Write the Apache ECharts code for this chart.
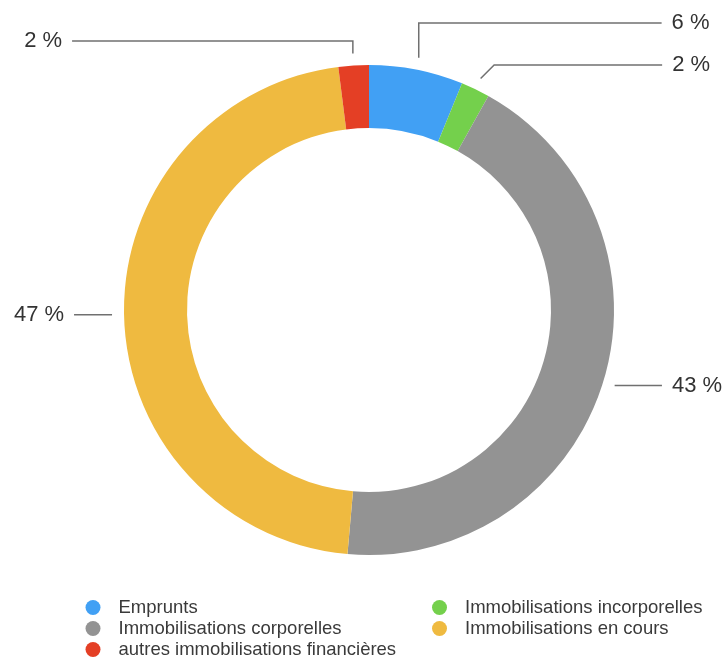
<!DOCTYPE html>
<html>
<head>
<meta charset="utf-8">
<script src="https://cdn.jsdelivr.net/npm/echarts@6/dist/echarts.min.js"></script>
<style>
html,body{margin:0;padding:0;background:#fff;}
#chart{width:728px;height:664px;}
</style>
</head>
<body>
<div id="chart"></div>
<script>
// ---- data ----
const categories = [
  'Emprunts',
  'Immobilisations incorporelles',
  'Immobilisations corporelles',
  'Immobilisations en cours',
  'autres immobilisations financières'
];
const values = [6.2, 1.9, 43.3, 46.6, 2.0];

const legendLeftColumn = ['Emprunts', 'Immobilisations corporelles', 'autres immobilisations financières'];
const legendRightColumn = ['Immobilisations incorporelles', 'Immobilisations en cours'];

// ---- styles ----
const colors = ['#41a0f4', '#74d04c', '#939393', '#efba40', '#e43f25'];
const lineLength = [47.5, 27, 12, 2, 24.5];
const lineLength2 = [236, 175, 47.3, 48, 280];
const lineGap = [12, 12, 12, 12, 12];
const firstSegment = ['vertical', 'diagonal', 'radial', 'radial', 'vertical'];
const FONT = '"Liberation Sans", Arial, Helvetica, sans-serif';

const seriesData = categories.map((name, i) => ({
  name: name,
  value: values[i],
  itemStyle: { color: colors[i] },
  labelLine: { length: lineLength[i], length2: lineLength2[i] }
}));

function trimStart(points, gap) {
  if (!points || points.length < 2) return points;
  const pts = points.map(p => [p[0], p[1]]);
  let remain = gap;
  while (pts.length >= 2) {
    const a = pts[0], b = pts[1];
    const d = Math.hypot(b[0] - a[0], b[1] - a[1]);
    if (d > remain) {
      const t = remain / d;
      pts[0] = [a[0] + (b[0] - a[0]) * t, a[1] + (b[1] - a[1]) * t];
      return pts;
    }
    remain -= d;
    pts.shift();
  }
  return pts;
}

const chart = echarts.init(document.getElementById('chart'), null, { renderer: 'canvas' });
const legendCommon = {
  orient: 'vertical',
  icon: 'circle',
  itemWidth: 15,
  itemHeight: 15,
  itemGap: 2,
  padding: 0,
  height: 80,
  selectedMode: false,
  textStyle: { fontFamily: FONT, fontSize: 18.5, color: '#3a3a3a', padding: [0, 0, 0, 13] }
};
chart.setOption({
  animation: false,
  backgroundColor: '#ffffff',
  legend: [
    Object.assign({}, legendCommon, { data: legendLeftColumn, left: 85.5, top: 598 }),
    Object.assign({}, legendCommon, { data: legendRightColumn, left: 432, top: 598 })
  ],
  series: [{
    type: 'pie',
    center: [369, 310],
    radius: [182, 245],
    startAngle: 90,
    clockwise: true,
    avoidLabelOverlap: false,
    emphasis: { disabled: true },
    label: {
      show: true,
      position: 'outside',
      distanceToLabelLine: 10,
      fontFamily: FONT,
      fontSize: 22,
      color: '#333333',
      formatter: p => Math.round(p.percent) + ' %'
    },
    labelLine: {
      show: true,
      lineStyle: { color: '#707070', width: 1.5 }
    },
    labelLayout: function (params) {
      const i = params.dataIndex;
      const pts = trimStart(params.labelLinePoints, lineGap[i]);
      if (pts && pts.length === 3) {
        if (firstSegment[i] === 'vertical') {
          pts[1][0] = pts[0][0];
        } else if (firstSegment[i] === 'diagonal') {
          const sign = pts[2][0] >= pts[1][0] ? 1 : -1;
          pts[1][0] = pts[0][0] + sign * Math.abs(pts[0][1] - pts[1][1]);
        }
      }
      return { labelLinePoints: pts };
    },
    data: seriesData
  }]
});
</script>
</body>
</html>
